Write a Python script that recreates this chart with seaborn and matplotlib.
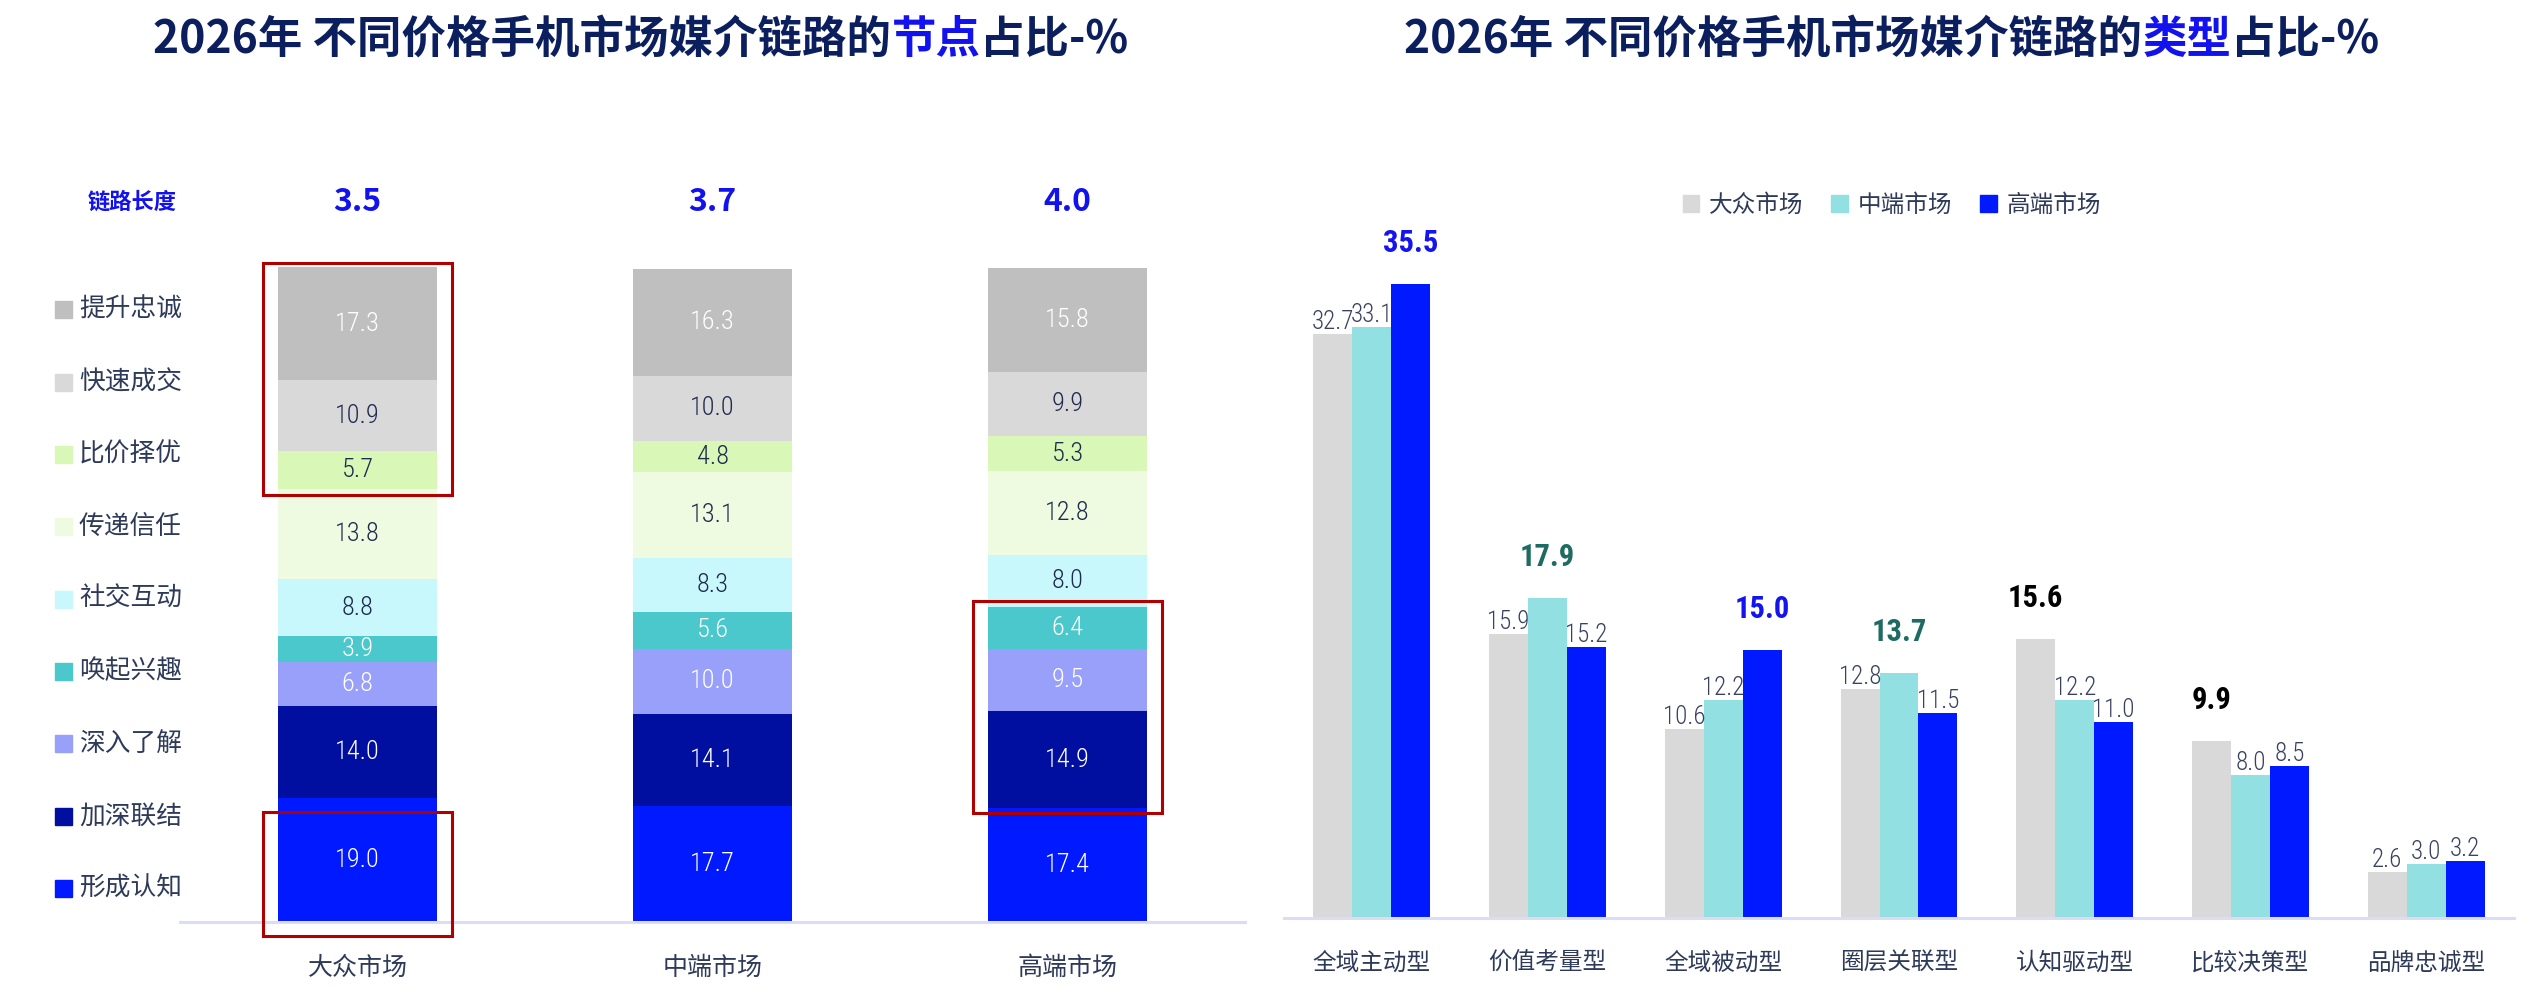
import matplotlib
matplotlib.use('Agg')
import matplotlib.pyplot as plt
import matplotlib.transforms as mtransforms
from matplotlib.patches import Rectangle
from matplotlib import font_manager as fm
import seaborn as sns
import numpy as np
import pandas as pd

sns.set_theme(style='white')
CJK = 'Noto Sans CJK SC'
plt.rcParams['font.family'] = [CJK, 'DejaVu Sans']

avail = {f.name for f in fm.fontManager.ttflist}
NUM = next((f for f in ['Liberation Sans Narrow', 'Roboto Condensed', 'DejaVu Sans Condensed', 'Roboto'] if f in avail), 'DejaVu Sans')

# ---------------- data ----------------
markets = ['大众市场', '中端市场', '高端市场']
chain_length = [3.5, 3.7, 4.0]
nodes = ['形成认知', '加深联结', '深入了解', '唤起兴趣', '社交互动', '传递信任', '比价择优', '快速成交', '提升忠诚']  # bottom -> top
share_mass = [19.0, 14.0, 6.8, 3.9, 8.8, 13.8, 5.7, 10.9, 17.3]
share_mid = [17.7, 14.1, 10.0, 5.6, 8.3, 13.1, 4.8, 10.0, 16.3]
share_high = [17.4, 14.9, 9.5, 6.4, 8.0, 12.8, 5.3, 9.9, 15.8]
# (market, lowest node, highest node) of each red box
highlight_boxes = [('大众市场', '比价择优', '提升忠诚'), ('大众市场', '形成认知', '形成认知'), ('高端市场', '加深联结', '唤起兴趣')]

types = ['全域主动型', '价值考量型', '全域被动型', '圈层关联型', '认知驱动型', '比较决策型', '品牌忠诚型']
type_mass = [32.7, 15.9, 10.6, 12.8, 15.6, 9.9, 2.6]
type_mid = [33.1, 17.9, 12.2, 13.7, 12.2, 8.0, 3.0]
type_high = [35.5, 15.2, 15.0, 11.5, 11.0, 8.5, 3.2]
type_highlight = [True, True, True, True, True, True, False]

# ---------------- styles ----------------
node_colors = {'形成认知': '#0019FF', '加深联结': '#000FA0', '深入了解': '#98A0FA', '唤起兴趣': '#4AC8CC',
               '社交互动': '#C8F8FC', '传递信任': '#EFFBE1', '比价择优': '#D9F7B6', '快速成交': '#D9D9D9',
               '提升忠诚': '#BFBFBF'}
node_text = {'形成认知': 'white', '加深联结': 'white', '深入了解': 'white', '唤起兴趣': 'white',
             '社交互动': '#1F2A4F', '传递信任': '#1F2A4F', '比价择优': '#1F2A4F', '快速成交': '#1F2A4F',
             '提升忠诚': 'white'}
market_colors = ['#D9D9D9', '#93E0E3', '#0019FF']
bold_colors = ['#000000', '#1D6B63', '#1414F0']
TXT = '#2E3A59'
NAVY = '#0B1F5E'
BLUE = '#1212EE'
AXIS = '#DCDCF4'

W, H = 2536, 996
fig = plt.figure(figsize=(W / 100, H / 100), dpi=100)
fig.patch.set_facecolor('white')

axL = fig.add_axes([180 / W, 1 - 922 / H, 1065 / W, 706 / H])
axR = fig.add_axes([1284 / W, 1 - 918 / H, 1230 / W, 718 / H])

# ---------------- left: stacked bars ----------------
dfL = pd.DataFrame({'market': np.repeat(markets, len(nodes)),
                    'node': nodes * len(markets),
                    'share': share_mass + share_mid + share_high})
dfL['cum'] = dfL.groupby('market')['share'].cumsum()
dfL['mid'] = dfL['cum'] - dfL['share'] / 2

for node in reversed(nodes):
    sub = dfL[dfL.node == node]
    sns.barplot(data=sub, x='market', y='cum', order=markets, color=node_colors[node],
                width=0.45, saturation=1, errorbar=None, linewidth=0, ax=axL)

for _, r in dfL.iterrows():
    xi = markets.index(r['market'])
    axL.text(xi, r['mid'], f"{r['share']:.1f}", ha='center', va='center', fontsize=19,
             color=node_text[r['node']], family=NUM, fontweight='light')

axL.set_xlim(-0.5, 2.5)
axL.set_ylim(0, 108)
axL.set_xlabel('')
axL.set_ylabel('')
axL.set_yticks([])
for s in ['left', 'right', 'top']:
    axL.spines[s].set_visible(False)
axL.spines['bottom'].set_color(AXIS)
axL.spines['bottom'].set_linewidth(2.2)
axL.tick_params(axis='x', length=0, pad=24, labelsize=18, labelcolor=TXT)

trL = mtransforms.blended_transform_factory(axL.transData, axL.transAxes)
for i, v in enumerate(chain_length):
    axL.text(i, 1.02, f'{v:.1f}', transform=trL, ha='center', va='center', fontsize=23,
             fontweight='bold', color=BLUE)
fig.text(132 / W, 1 - 202 / H, '链路长度', ha='center', va='center', fontsize=16,
         fontweight='bold', color=BLUE)

# highlight boxes
pads = [(1.0, 0.6), (2.1, -2.2), (0.7, 0.9)]
for (mk, lo, hi), (plo, phi) in zip(highlight_boxes, pads):
    sub = dfL[dfL.market == mk].set_index('node')
    y0 = sub.loc[lo, 'cum'] - sub.loc[lo, 'share'] - plo
    y1 = sub.loc[hi, 'cum'] + phi
    xi = markets.index(mk)
    axL.add_patch(Rectangle((xi - 0.267, y0), 0.534, y1 - y0, fill=False, edgecolor='#B00000',
                            linewidth=2.2, clip_on=False, zorder=5))

# left legend
for k, node in enumerate(reversed(nodes)):
    yc = 310 + k * 72.3
    fig.patches.append(Rectangle((55 / W, 1 - (yc + 8.5) / H), 17 / W, 17 / H,
                                 transform=fig.transFigure, color=node_colors[node]))
    fig.text(79 / W, 1 - yc / H, node, ha='left', va='center', fontsize=18.5, color=TXT)

# ---------------- right: grouped bars ----------------
dfR = pd.DataFrame({'type': types * len(markets),
                    'market': np.repeat(markets, len(types)),
                    'value': type_mass + type_mid + type_high})
sns.barplot(data=dfR, x='type', y='value', hue='market', order=types, hue_order=markets,
            palette=market_colors, width=0.665, saturation=1, errorbar=None, linewidth=0,
            legend=False, ax=axR)

series = [type_mass, type_mid, type_high]
for j in range(len(types)):
    vals = [s[j] for s in series]
    imax = int(np.argmax(vals))
    for i, cont in enumerate(axR.containers):
        p = cont.patches[j]
        x = p.get_x() + p.get_width() / 2
        h = p.get_height()
        if type_highlight[j] and i == imax:
            axR.annotate(f'{h:.1f}', (x, h), xytext=(0, 19), textcoords='offset points',
                         ha='center', va='bottom', fontsize=22, fontweight='bold',
                         color=bold_colors[i], family=NUM)
        else:
            axR.annotate(f'{h:.1f}', (x, h), xytext=(0, 0), textcoords='offset points',
                         ha='center', va='bottom', fontsize=18, color='#3A4160', family=NUM,
                         fontweight='light')

axR.set_xlim(-0.5, 6.5)
axR.set_ylim(0, 40.2)
axR.set_xlabel('')
axR.set_ylabel('')
axR.set_yticks([])
for s in ['left', 'right', 'top']:
    axR.spines[s].set_visible(False)
axR.spines['bottom'].set_color(AXIS)
axR.spines['bottom'].set_linewidth(2.2)
axR.tick_params(axis='x', length=0, pad=24, labelsize=17, labelcolor=TXT)

handles = [Rectangle((0, 0), 1, 1, color=c) for c in market_colors]
leg = axR.legend(handles, markets, ncol=3, loc='center', bbox_to_anchor=(0.494, 0.993),
                 frameon=False, fontsize=17, handlelength=0.7, handleheight=0.7,
                 handletextpad=0.4, columnspacing=1.2)
for t in leg.get_texts():
    t.set_color(TXT)

# ---------------- titles ----------------
def multicolor_title(pieces, cx, cy, size):
    r = fig.canvas.get_renderer()
    texts = [fig.text(0, cy / H, s, color=c, fontsize=size, fontweight='heavy',
                      va='center', ha='left') for s, c in pieces]
    widths = [t.get_window_extent(r).width for t in texts]
    x = cx - sum(widths) / 2
    for t, w in zip(texts, widths):
        t.set_x(x / W)
        x += w

multicolor_title([('2026年 不同价格手机市场媒介链路的', NAVY), ('节点', BLUE), ('占比-%', NAVY)],
                 641, H - 40, 32)
multicolor_title([('2026年 不同价格手机市场媒介链路的', NAVY), ('类型', BLUE), ('占比-%', NAVY)],
                 1892, H - 40, 32)

fig.savefig('out.png', dpi=100, facecolor='white')
